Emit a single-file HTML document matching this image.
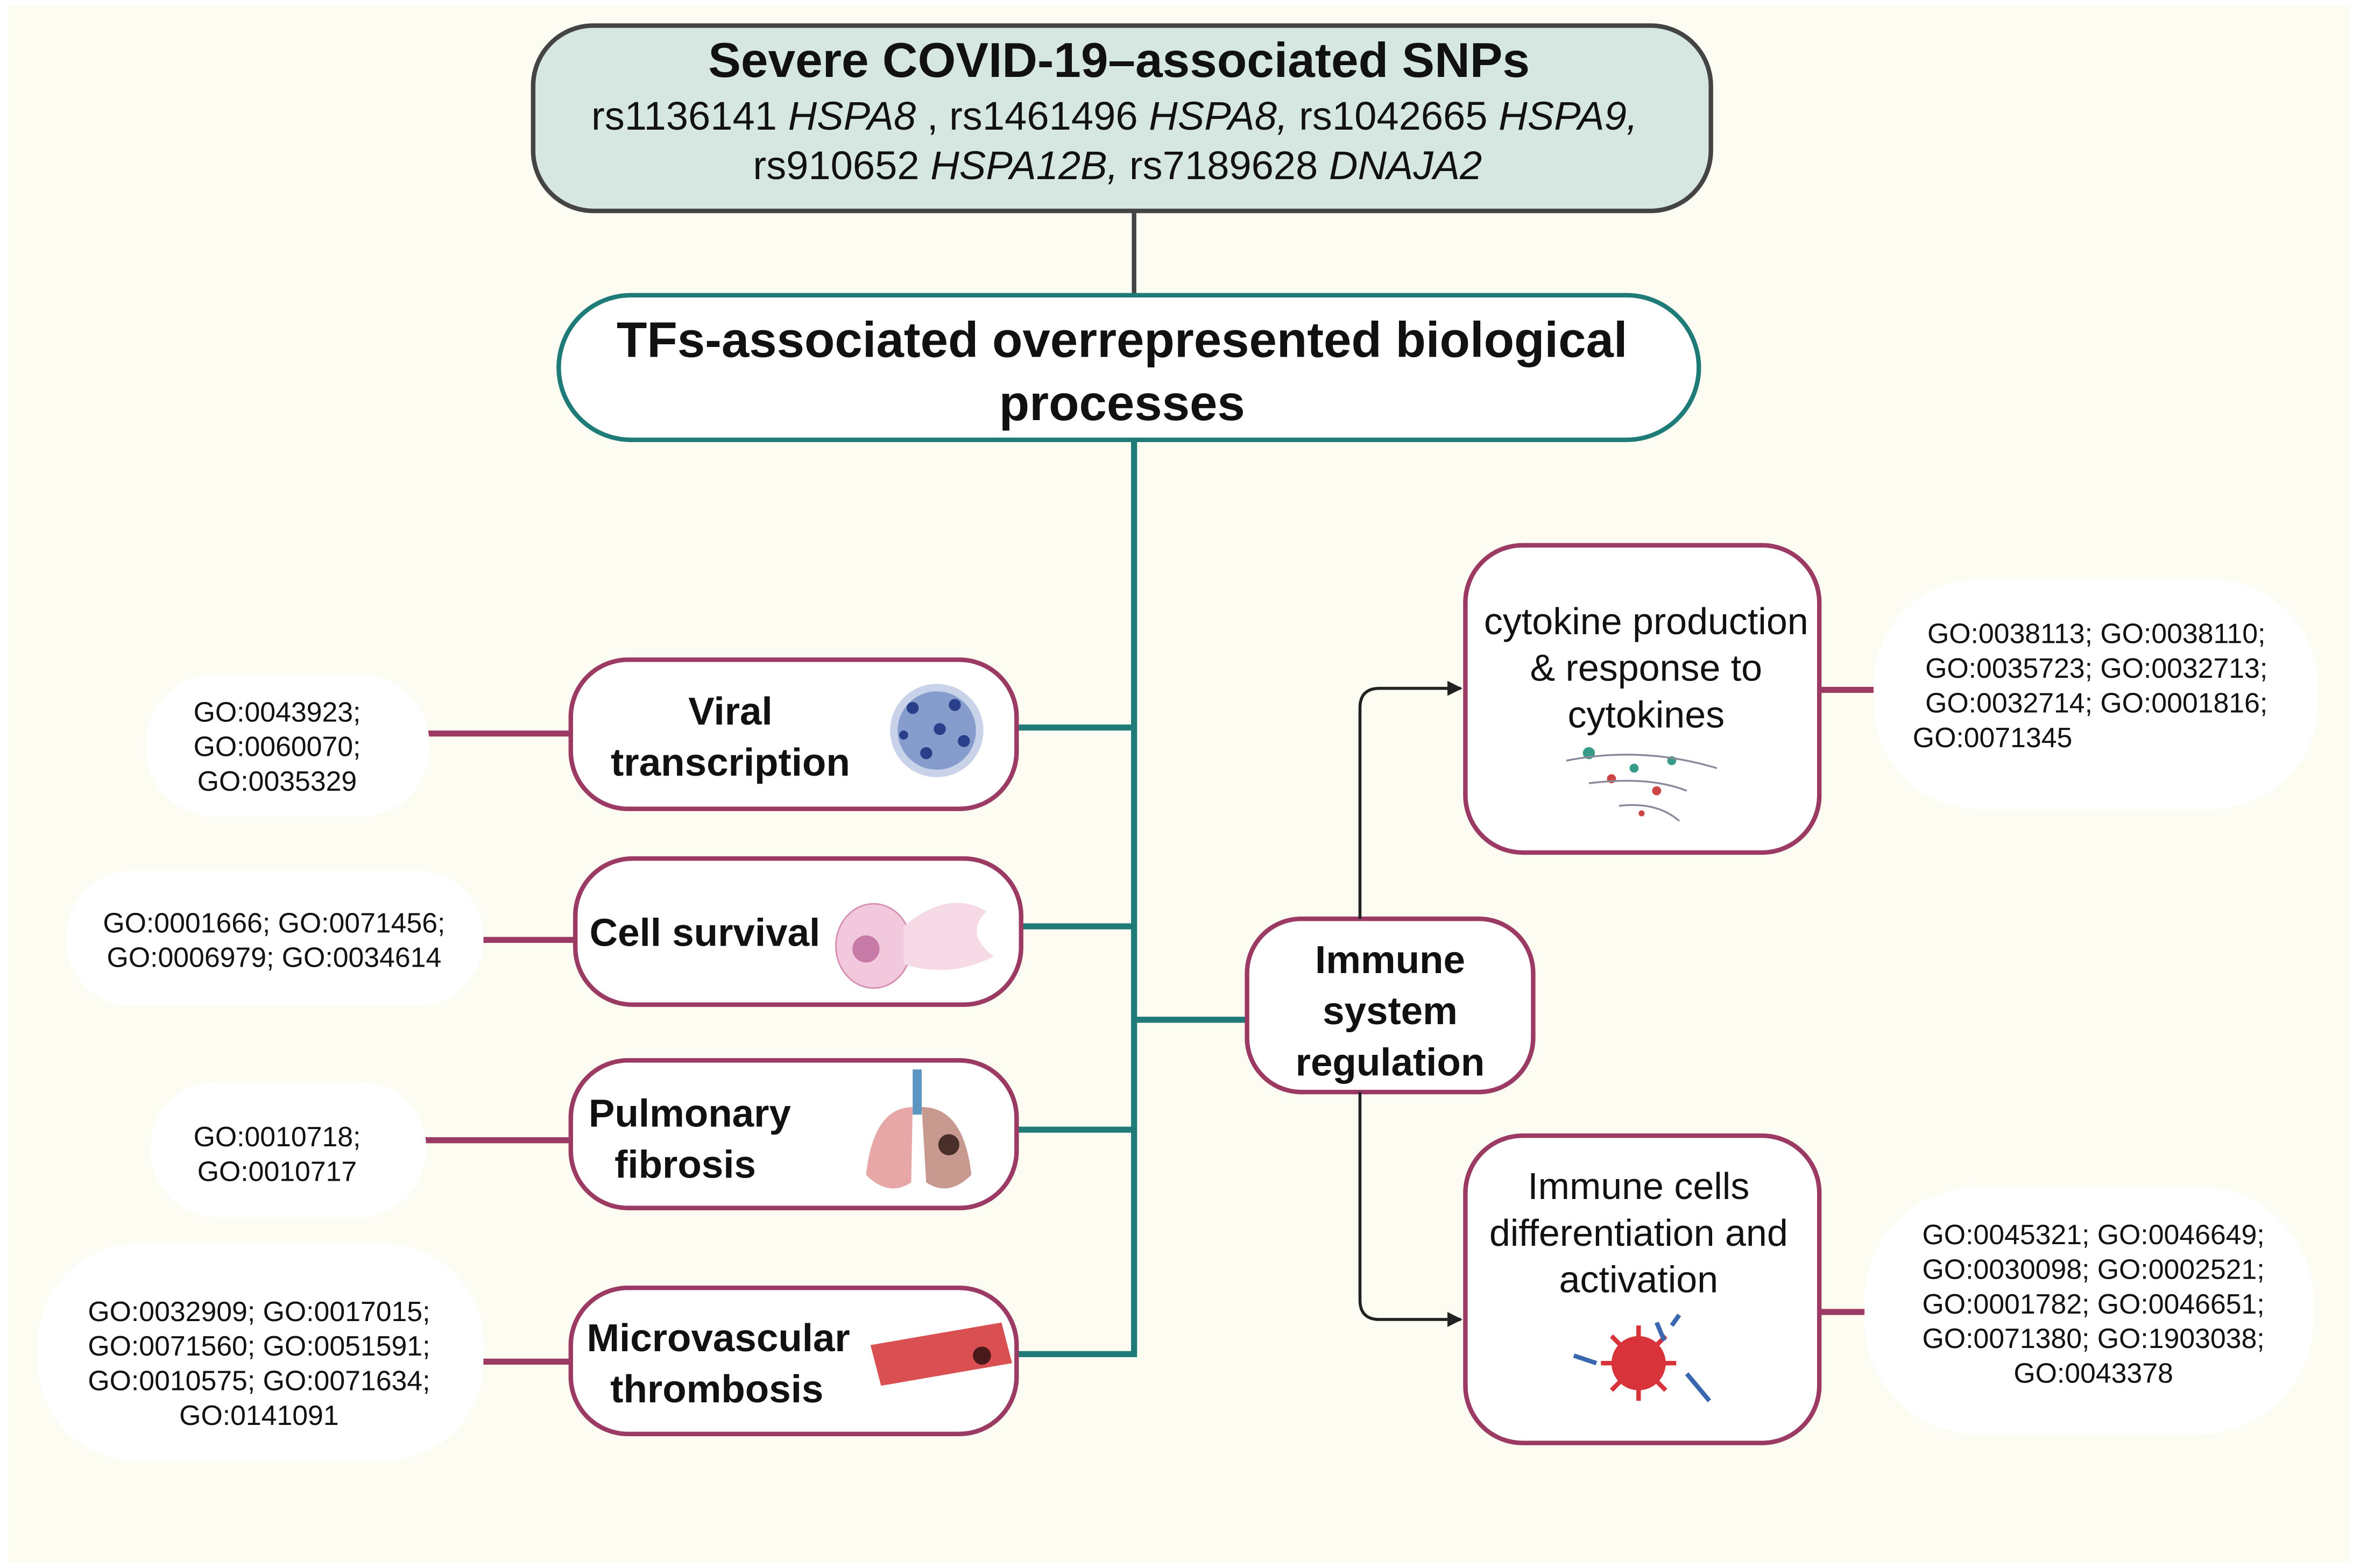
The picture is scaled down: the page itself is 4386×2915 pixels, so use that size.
<!DOCTYPE html>
<html><head><meta charset="utf-8"><style>
html,body{margin:0;padding:0;background:#fff;}
svg{display:block}
text{font-family:"Liberation Sans",sans-serif;fill:#111}
.b{font-weight:bold}
.go{font-size:18.5px;text-anchor:middle}
.lbl{font-size:26px;font-weight:bold;text-anchor:middle}
.r{font-size:25px;text-anchor:middle}
</style></head><body>
<svg width="4386" height="2915" viewBox="0 0 1567 1041" preserveAspectRatio="none" xmlns="http://www.w3.org/2000/svg">
<rect x="0" y="0" width="1567" height="1041" fill="#ffffff"/>
<rect x="5" y="4" width="1555" height="1033" fill="#fdfcf2"/>
<defs><marker id="ar" markerWidth="10" markerHeight="10" refX="9" refY="5" orient="auto" markerUnits="userSpaceOnUse"><path d="M0,0 L10,5 L0,10 z" fill="#222"/></marker></defs>

<line x1="753" y1="140" x2="753" y2="196" stroke="#444" stroke-width="3"/>
<rect x="354" y="17" width="782" height="123" rx="40" fill="#d6e6e1" stroke="#444" stroke-width="3"/>
<text x="743" y="51" class="b" font-size="32.5" text-anchor="middle">Severe COVID-19–associated SNPs</text>
<text x="740" y="86" font-size="26.5" text-anchor="middle">rs1136141 <tspan font-style="italic">HSPA8</tspan> , rs1461496 <tspan font-style="italic">HSPA8,</tspan> rs1042665 <tspan font-style="italic">HSPA9,</tspan></text>
<text x="742" y="119" font-size="26.5" text-anchor="middle">rs910652 <tspan font-style="italic">HSPA12B,</tspan> rs7189628 <tspan font-style="italic">DNAJA2</tspan></text>

<rect x="371" y="196" width="757" height="96" rx="48" fill="#fff" stroke="#1e7b78" stroke-width="3"/>
<text x="745" y="237" class="b" font-size="33" text-anchor="middle">TFs-associated overrepresented biological</text>
<text x="745" y="279" class="b" font-size="33" text-anchor="middle">processes</text>

<g stroke="#1e7b78" stroke-width="4" fill="none">
<line x1="753" y1="292" x2="753" y2="901"/>
<line x1="675" y1="483" x2="753" y2="483"/>
<line x1="678" y1="615" x2="753" y2="615"/>
<line x1="675" y1="750" x2="753" y2="750"/>
<line x1="675" y1="899" x2="753" y2="899"/>
<line x1="753" y1="677" x2="828" y2="677"/>
</g>

<g stroke="#9b3a63" stroke-width="4">
<line x1="283" y1="487" x2="379" y2="487"/>
<line x1="318" y1="624" x2="382" y2="624"/>
<line x1="280" y1="757" x2="379" y2="757"/>
<line x1="318" y1="904" x2="379" y2="904"/>
<line x1="1208" y1="458" x2="1246" y2="458"/>
<line x1="1208" y1="871" x2="1240" y2="871"/>
</g>

<g fill="#fff">
<rect x="97" y="448" width="188" height="94" rx="45"/>
<rect x="44" y="578" width="277" height="90" rx="44"/>
<rect x="100" y="718" width="183" height="90" rx="44"/>
<rect x="25" y="826" width="296" height="144" rx="66"/>
<rect x="1244" y="385" width="295" height="152" rx="70"/>
<rect x="1238" y="788" width="298" height="164" rx="75"/>
</g>
<text class="go" x="184" y="479">GO:0043923;</text>
<text class="go" x="184" y="502">GO:0060070;</text>
<text class="go" x="184" y="525">GO:0035329</text>
<text class="go" x="182" y="619">GO:0001666; GO:0071456;</text>
<text class="go" x="182" y="642">GO:0006979; GO:0034614</text>
<text class="go" x="184" y="761">GO:0010718;</text>
<text class="go" x="184" y="784">GO:0010717</text>
<text class="go" x="172" y="877">GO:0032909; GO:0017015;</text>
<text class="go" x="172" y="900">GO:0071560; GO:0051591;</text>
<text class="go" x="172" y="923">GO:0010575; GO:0071634;</text>
<text class="go" x="172" y="946">GO:0141091</text>
<text class="go" x="1392" y="427">GO:0038113; GO:0038110;</text>
<text class="go" x="1392" y="450">GO:0035723;  GO:0032713;</text>
<text class="go" x="1392" y="473">GO:0032714; GO:0001816;</text>
<text class="go" x="1323" y="496">GO:0071345</text>
<text class="go" x="1390" y="826">GO:0045321; GO:0046649;</text>
<text class="go" x="1390" y="849">GO:0030098; GO:0002521;</text>
<text class="go" x="1390" y="872">GO:0001782; GO:0046651;</text>
<text class="go" x="1390" y="895">GO:0071380; GO:1903038;</text>
<text class="go" x="1390" y="918">GO:0043378</text>

<g fill="#fff" stroke="#9b3a63" stroke-width="3">
<rect x="379" y="438" width="296" height="99" rx="38"/>
<rect x="382" y="570" width="296" height="97" rx="38"/>
<rect x="379" y="704" width="296" height="98" rx="38"/>
<rect x="379" y="855" width="296" height="97" rx="38"/>
<rect x="828" y="610" width="190" height="115" rx="36"/>
<rect x="973" y="362" width="235" height="204" rx="38"/>
<rect x="973" y="754" width="235" height="204" rx="38"/>
</g>
<text class="lbl" x="485" y="481">Viral</text>
<text class="lbl" x="485" y="515">transcription</text>
<text class="lbl" x="468" y="628">Cell survival</text>
<text class="lbl" x="458" y="748">Pulmonary</text>
<text class="lbl" x="455" y="782">fibrosis</text>
<text class="lbl" x="477" y="897">Microvascular</text>
<text class="lbl" x="476" y="931">thrombosis</text>
<text class="lbl" x="923" y="646">Immune</text>
<text class="lbl" x="923" y="680">system</text>
<text class="lbl" x="923" y="714">regulation</text>
<text class="r" x="1093" y="421">cytokine production</text>
<text class="r" x="1093" y="452">&amp; response to</text>
<text class="r" x="1093" y="483">cytokines</text>
<text class="r" x="1088" y="796">Immune cells</text>
<text class="r" x="1088" y="827">differentiation and</text>
<text class="r" x="1088" y="858">activation</text>

<g stroke="#222" stroke-width="2" fill="none">
<path d="M903 610 V470 Q903 457 916 457 H970" marker-end="url(#ar)"/>
<path d="M903 725 V863 Q903 876 916 876 H970" marker-end="url(#ar)"/>
</g>

<circle cx="622" cy="485" r="31" fill="#c8d3ea"/>
<circle cx="622" cy="485" r="26" fill="#5a78b8" opacity="0.6"/>
<g fill="#2a3f8a"><circle cx="606" cy="470" r="4"/><circle cx="634" cy="468" r="4"/><circle cx="640" cy="492" r="4"/><circle cx="615" cy="500" r="4"/><circle cx="624" cy="484" r="4"/><circle cx="600" cy="488" r="3"/></g>
<ellipse cx="580" cy="628" rx="25" ry="28" fill="#f2c8dc" stroke="#d58fb2"/>
<circle cx="575" cy="630" r="9" fill="#c77aa5"/>
<path d="M600 615 Q630 590 655 605 Q640 620 660 635 Q630 650 600 640z" fill="#f6dbe7"/>
<rect x="606" y="710" width="6" height="30" fill="#5d95c2"/>
<path d="M606 735 Q580 735 575 780 Q590 795 605 785z" fill="#e7a7a7"/>
<path d="M612 735 Q640 735 645 780 Q630 795 615 785z" fill="#c7998f"/>
<circle cx="630" cy="760" r="7" fill="#4a2e2a"/>
<path d="M578 893 L665 878 L672 905 L585 920z" fill="#d94f52"/>
<circle cx="652" cy="900" r="6" fill="#4a1a1a"/>
<g fill="#3a9a8a"><circle cx="1055" cy="500" r="4"/><circle cx="1085" cy="510" r="3"/><circle cx="1110" cy="505" r="3"/></g>
<g fill="#c44"><circle cx="1070" cy="517" r="3"/><circle cx="1100" cy="525" r="3"/><circle cx="1090" cy="540" r="2"/></g>
<path d="M1040 505 Q1090 495 1140 510 M1055 520 Q1095 515 1120 525 M1075 535 Q1100 532 1115 545" stroke="#889" stroke-width="1.2" fill="none"/>
<circle cx="1088" cy="905" r="18" fill="#d8323a"/>
<g stroke="#d8323a" stroke-width="3"><line x1="1088" y1="880" x2="1088" y2="930"/><line x1="1063" y1="905" x2="1113" y2="905"/><line x1="1070" y1="887" x2="1106" y2="923"/><line x1="1106" y1="887" x2="1070" y2="923"/></g>
<g stroke="#3b66b0" stroke-width="3" fill="none"><path d="M1045 900 L1060 905 M1110 880 L1115 873 M1120 912 L1135 930 M1100 878 L1105 890"/></g>
</svg>
</body></html>
